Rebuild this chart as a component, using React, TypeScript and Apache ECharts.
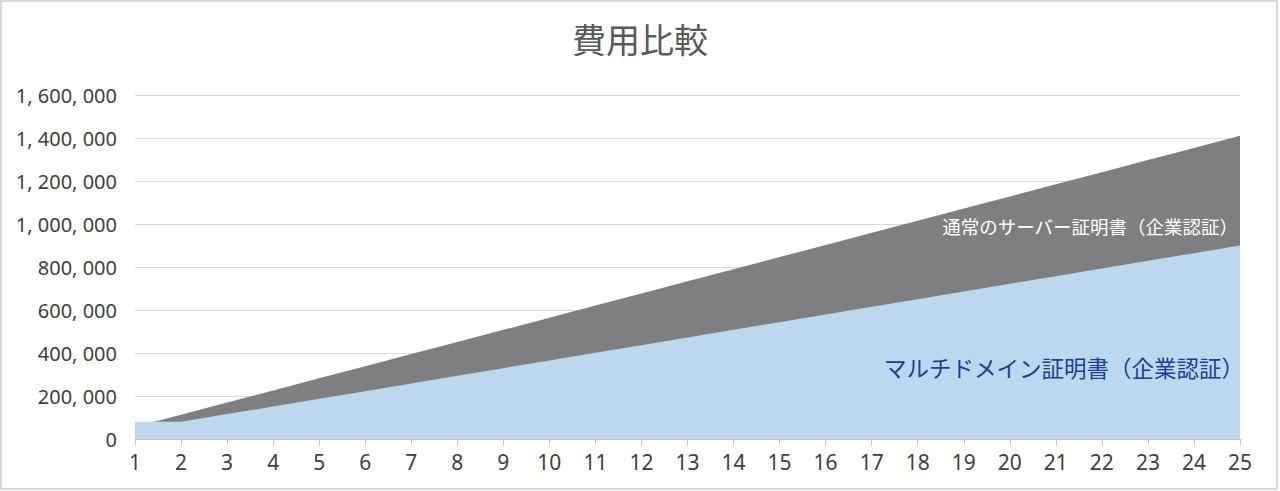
import React, { useEffect, useRef } from "react";
import * as echarts from "echarts";

const years = ["1","2","3","4","5","6","7","8","9","10","11","12","13","14","15","16","17","18","19","20","21","22","23","24","25"];
const normalCost = [56400,112800,169200,225600,282000,338400,394800,451200,507600,564000,620400,676800,733200,789600,846000,902400,958800,1015200,1071600,1128000,1184400,1240800,1297200,1353600,1410000];
const multiCost = [80000,80000,115700,151300,187000,222600,258300,293900,329600,365200,400900,436500,472200,507800,543500,579100,614800,650400,686100,721700,757400,793000,828700,864300,900000];
const normalName = "通常のサーバー証明書（企業認証）";
const multiName = "マルチドメイン証明書（企業認証）";
const titleText = "費用比較";

const numFont = "'Noto Sans', sans-serif";
const cjkFont = "'Noto Sans CJK JP', 'Noto Sans', sans-serif";

export default function App() {
  const ref = useRef<HTMLDivElement>(null);
  useEffect(() => {
    if (!ref.current) return;
    const chart = echarts.init(ref.current, null, { renderer: "svg" });
    chart.setOption({
      animation: false,
      backgroundColor: "#ffffff",
      title: {
        text: titleText,
        left: "center",
        top: 16,
        textStyle: { fontFamily: cjkFont, fontSize: 34, fontWeight: "normal", color: "#595959" },
      },
      grid: { left: 135, right: 40, top: 95, bottom: 52, outerBoundsMode: "none", containLabel: false },
      xAxis: {
        type: "category",
        data: years,
        boundaryGap: false,
        axisLine: { lineStyle: { color: "#bfbfbf", width: 1 } },
        axisTick: { show: true, interval: 0, length: 6, lineStyle: { color: "#bfbfbf" } },
        axisLabel: { interval: 0, margin: 12, fontFamily: numFont, fontSize: 21, color: "#404040" },
        splitLine: { show: false },
      },
      yAxis: {
        type: "value",
        min: 0,
        max: 1600000,
        interval: 200000,
        axisLine: { show: false },
        axisTick: { show: false },
        axisLabel: {
          margin: 18,
          fontFamily: numFont,
          fontSize: 20,
          color: "#404040",
          formatter: (v: number) => v.toLocaleString("en-US").replace(/,/g, ", "),
        },
        splitLine: { lineStyle: { color: "#d9d9d9", width: 1 } },
      },
      series: [
        {
          name: normalName,
          type: "line",
          data: normalCost,
          symbol: "none",
          lineStyle: { width: 0 },
          areaStyle: { color: "#7f7f7f", opacity: 1 },
          z: 2,
        },
        {
          name: multiName,
          type: "line",
          data: multiCost,
          symbol: "none",
          lineStyle: { width: 0 },
          areaStyle: { color: "#bdd7ee", opacity: 1 },
          z: 3,
        },
      ],
      graphic: [
        {
          type: "rect",
          shape: { x: 1, y: 1, width: 1276, height: 488 },
          style: { fill: "none", stroke: "#d9d9d9", lineWidth: 2 },
          z: 100,
        },
        {
          type: "text",
          x: 1238,
          y: 226,
          z: 100,
          style: {
            text: normalName,
            fill: "#ffffff",
            font: `18.5px ${cjkFont}`,
            align: "right",
            verticalAlign: "middle",
          },
        },
        {
          type: "text",
          x: 1244,
          y: 367,
          z: 100,
          style: {
            text: multiName,
            fill: "#203c9a",
            font: `22.5px ${cjkFont}`,
            align: "right",
            verticalAlign: "middle",
          },
        },
      ],
    });
    return () => chart.dispose();
  }, []);
  return <div ref={ref} style={{ position: "fixed", left: 0, top: 0, width: 1280, height: 491 }} />;
}
